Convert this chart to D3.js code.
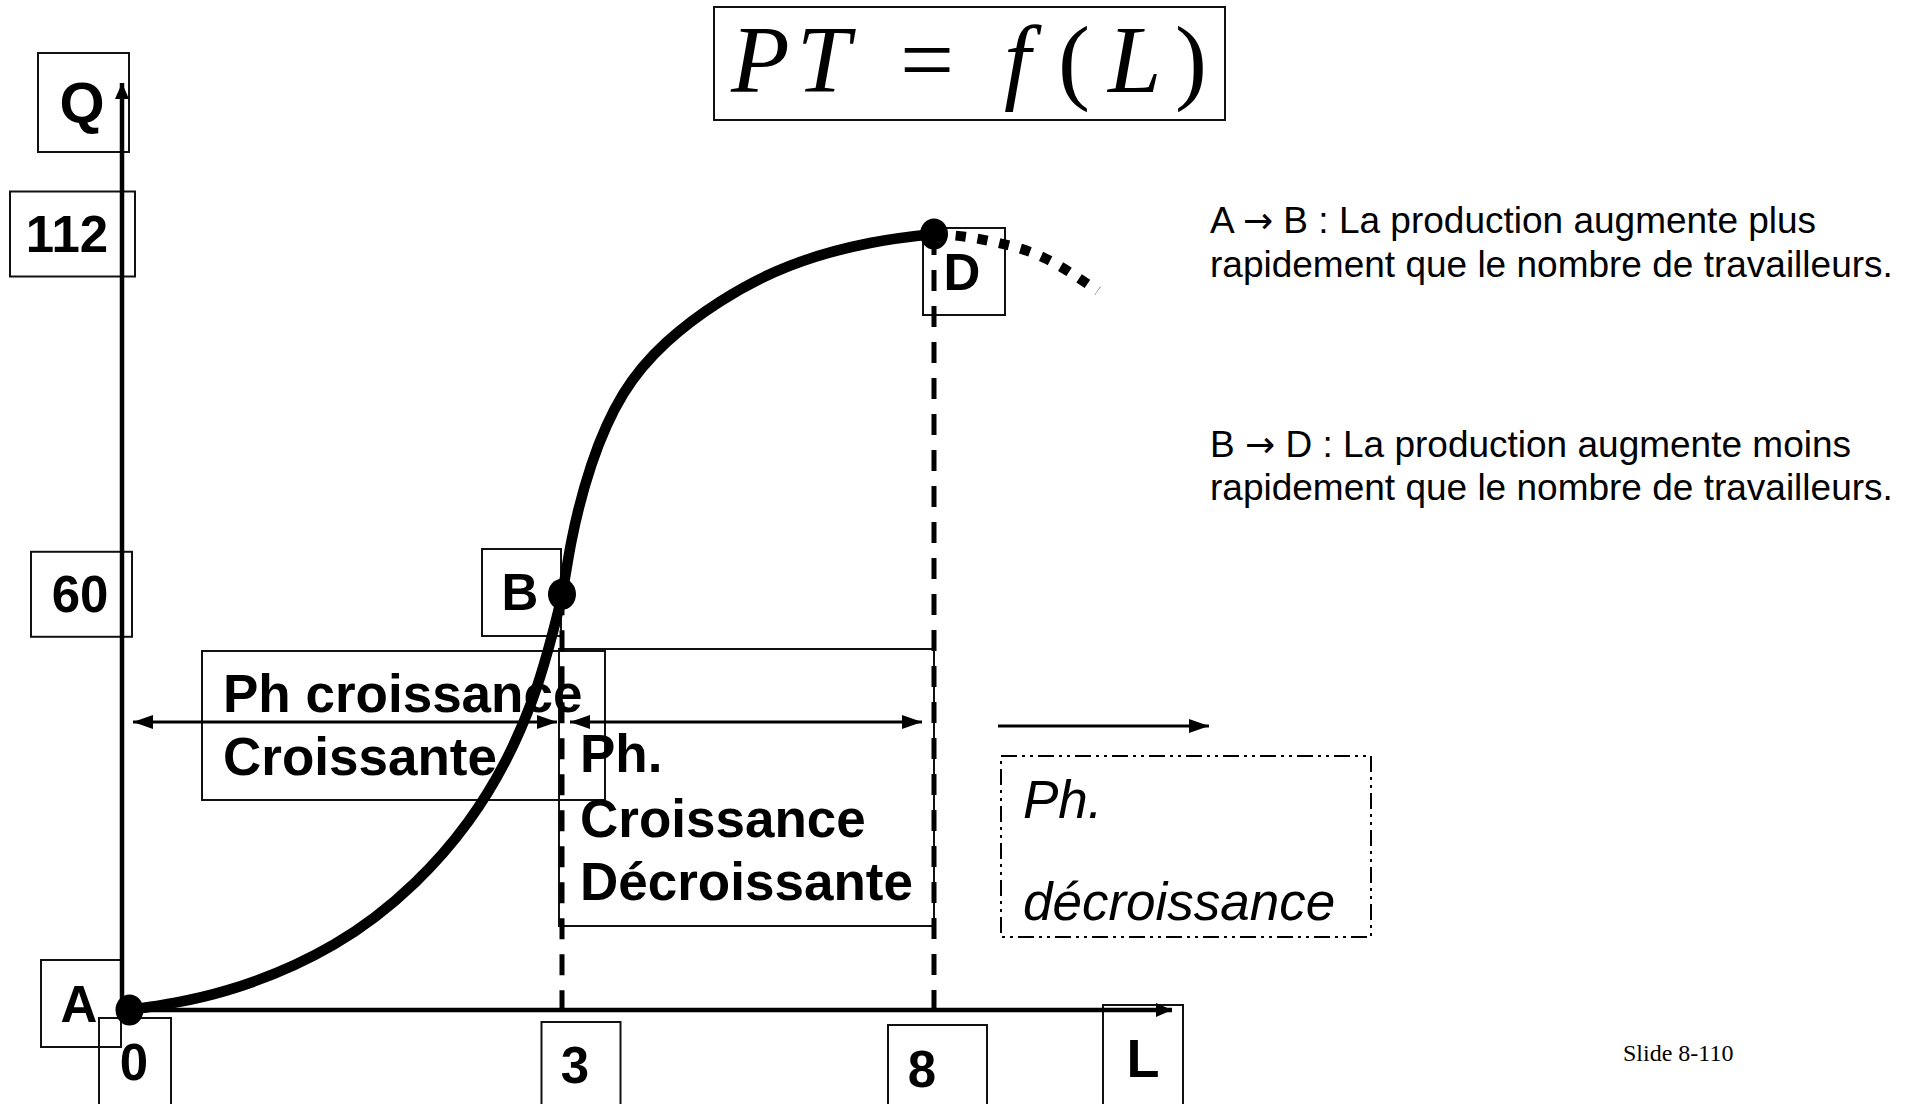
<!DOCTYPE html>
<html>
<head>
<meta charset="utf-8">
<script src="https://cdn.jsdelivr.net/npm/d3@7"></script>
<style>
  html, body { margin: 0; padding: 0; background: #fff; }
  svg { display: block; }
  .lbl { font-family: "Liberation Sans", Arial, sans-serif; font-weight: bold; fill: #000; }
</style>
</head>
<body>
<svg id="chart" width="1914" height="1104"></svg>
<script>
// ---------------- DATA ----------------
// Total product curve PT = f(L) (L workers, Q output)
const curveL = [0, 0.676, 1.418, 1.978, 2.348, 2.609, 2.795, 2.906, 3, 3.130, 3.394, 3.827, 4.402, 5.124, 6.058, 7.14, 8];
const curveQ = [0, 2.83, 9.45, 18.33, 27.13, 35.96, 44.8, 52.16, 60, 67.83, 78.65, 88.97, 96.35, 102.24, 107.4, 110.7, 112];
// dotted continuation after D (decreasing phase)
const extL = [8, 8.42, 8.95, 9.53, 10.2];
const extQ = [112, 111.6, 110.5, 108.3, 103.8];
// key points
const pointNames = ["A", "B", "D"];
const pointL = [0, 3, 8];
const pointQ = [0, 60, 112];
// tick labels
const xTickValues = [0, 3, 8];
const xTickLabels = ["0", "3", "8"];
const yTickValues = [60, 112];
const yTickLabels = ["60", "112"];
const axisNames = ["Q", "L"];
const titleParts = ["PT", "=", "f", "(", "L", ")"];
const phaseLabels = [["Ph croissance", "Croissante"], ["Ph.", "Croissance", "Décroissante"], ["Ph.", "décroissance"]];
const notes = [
  [["A ", "\u2192", " B : La production augmente plus"], "rapidement que le nombre de travailleurs."],
  [["B ", "\u2192", " D : La production augmente moins"], "rapidement que le nombre de travailleurs."]
];
const slideLabel = "Slide 8-110";

// ---------------- LAYOUT ----------------
const svg = d3.select("#chart");
const x = d3.scaleLinear().domain([0, 3, 8]).range([129.5, 562, 934]);
const y = d3.scaleLinear().domain([0, 112]).range([1010, 234]);

const defs = svg.append("defs");
function marker(id, w, h, orientAuto) {
  defs.append("marker").attr("id", id)
    .attr("markerUnits", "userSpaceOnUse")
    .attr("viewBox", `0 0 ${w} ${h}`)
    .attr("refX", w).attr("refY", h / 2)
    .attr("markerWidth", w).attr("markerHeight", h)
    .attr("orient", orientAuto)
    .append("path").attr("d", `M0,0L${w},${h/2}L0,${h}Z`).attr("fill", "#000");
}
marker("ax", 16, 14, "auto");
marker("arr", 20, 14, "auto-start-reverse");

function box(x0, y0, w, h, sw) {
  svg.append("rect").attr("x", x0).attr("y", y0).attr("width", w).attr("height", h)
    .attr("fill", "none").attr("stroke", "#111").attr("stroke-width", sw || 2);
}
function label(t, cx, by, size) {
  svg.append("text").attr("class", "lbl").attr("x", cx).attr("y", by)
    .attr("text-anchor", "middle").attr("font-size", size).text(t);
}

// ---- Title (one text element, positioned tspans)
box(714, 7, 511, 113, 2);
const titleX = [731, 900, 1004, 1058, 1108, 1175];
const titleItalic = [true, false, true, false, true, false];
const title = svg.append("text").attr("y", 92)
  .attr("font-family", "'Liberation Serif', 'Times New Roman', serif")
  .attr("font-size", 96);
titleParts.forEach((p, i) => {
  const ts = title.append("tspan").attr("x", titleX[i])
    .attr("font-style", titleItalic[i] ? "italic" : "normal")
    .text(p);
  if (p === "PT") ts.attr("letter-spacing", 7);
});

// ---- Axis name boxes
box(38, 53, 91, 99); label(axisNames[0], 82, 123, 58);
box(1103, 1005, 80, 105); label(axisNames[1], 1143, 1077, 54);

// ---- Y tick boxes
const yBox = { "60": [31, 101, 85], "112": [10, 125, 85] };
const yTextCx = { "60": 80, "112": 67 };
yTickValues.forEach((v, i) => {
  const b = yBox[yTickLabels[i]];
  const cy = y(v);
  box(b[0], cy - b[2] / 2, b[1], b[2]);
  label(yTickLabels[i], yTextCx[yTickLabels[i]], cy + 18, 51);
});

// ---- X tick boxes
const xBoxDx = [-30.5, -20.5, -46];
const xBoxW = [72, 79, 99];
const xBoxTop = [1018, 1022, 1025];
const xTextDx = [4.5, 13, -12];
const xTextBase = [1080, 1083, 1087];
xTickValues.forEach((v, i) => {
  const px = x(v);
  box(px + xBoxDx[i], xBoxTop[i], xBoxW[i], 100);
  label(xTickLabels[i], px + xTextDx[i], xTextBase[i], 51);
});

// ---- Point label boxes
const ptBox = [[41, 960, 80, 87], [482, 549, 79, 87], [923, 228, 82, 87]];
const ptText = [[79, 1022], [520, 610], [962, 290]];
pointNames.forEach((n, i) => {
  const b = ptBox[i];
  box(b[0], b[1], b[2], b[3]);
  label(n, ptText[i][0], ptText[i][1], 51);
});

// ---- Phase boxes & texts
box(202, 651, 403, 149, 2);
box(559, 649, 375, 277, 2);
svg.append("rect").attr("x", 1001).attr("y", 756).attr("width", 370).attr("height", 181)
  .attr("fill", "none").attr("stroke", "#000").attr("stroke-width", 2)
  .attr("stroke-dasharray", "16,5,3,5,3,5");

const ph1Base = [712, 775];
phaseLabels[0].forEach((t, i) => {
  svg.append("text").attr("class", "lbl").attr("x", 223).attr("y", ph1Base[i]).attr("font-size", 53).text(t);
});
const ph2Base = [772, 837, 900];
phaseLabels[1].forEach((t, i) => {
  svg.append("text").attr("class", "lbl").attr("x", 580).attr("y", ph2Base[i]).attr("font-size", 53).text(t);
});
const ph3Base = [818, 920];
phaseLabels[2].forEach((t, i) => {
  svg.append("text").attr("x", 1023).attr("y", ph3Base[i])
    .attr("font-family", "'Liberation Sans', Arial, sans-serif")
    .attr("font-style", "italic").attr("font-size", 53).text(t);
});

// ---- Notes on the right
const noteBase = [[233, 277], [457, 500]];
notes.forEach((lines, i) => {
  const t1 = svg.append("text").attr("x", 1210).attr("y", noteBase[i][0])
    .attr("font-family", "'Liberation Sans', Arial, sans-serif").attr("font-size", 37);
  lines[0].forEach((s, k) => {
    const ts = t1.append("tspan").text(s);
    if (k === 1) ts.attr("font-family", "'DejaVu Sans', sans-serif").attr("font-size", 36);
  });
  svg.append("text").attr("x", 1210).attr("y", noteBase[i][1])
    .attr("font-family", "'Liberation Sans', Arial, sans-serif")
    .attr("font-size", 37).text(lines[1]);
});

// ---- Slide number
svg.append("text").attr("x", 1623).attr("y", 1061)
  .attr("font-family", "'Liberation Serif', 'Times New Roman', serif")
  .attr("font-size", 24).text(slideLabel);

// ---- Phase arrows
function arrow(x1, x2, yy, both) {
  const l = svg.append("line").attr("x1", x1).attr("x2", x2).attr("y1", yy).attr("y2", yy)
    .attr("stroke", "#000").attr("stroke-width", 3).attr("marker-end", "url(#arr)");
  if (both) l.attr("marker-start", "url(#arr)");
}
arrow(133, 557, 722, true);
arrow(570, 922, 722, true);
arrow(998, 1209, 726, false);

// ---- Dashed verticals at B and D
[1, 2].forEach(i => {
  svg.append("line")
    .attr("x1", x(pointL[i])).attr("x2", x(pointL[i]))
    .attr("y1", y(pointQ[i])).attr("y2", y(0))
    .attr("stroke", "#000").attr("stroke-width", 5)
    .attr("stroke-dasharray", "21,15");
});

// ---- Axes
svg.append("line").attr("x1", 122).attr("y1", 1012).attr("x2", 122).attr("y2", 83)
  .attr("stroke", "#000").attr("stroke-width", 4.5).attr("marker-end", "url(#ax)");
svg.append("line").attr("x1", 120).attr("y1", 1010).attr("x2", 1172).attr("y2", 1010)
  .attr("stroke", "#000").attr("stroke-width", 4.5).attr("marker-end", "url(#ax)");

// ---- Curve (natural cubic spline through the read points)
const line = d3.line().x(d => x(d[0])).y(d => y(d[1])).curve(d3.curveNatural);
svg.append("path").datum(curveL.map((l, i) => [l, curveQ[i]]))
  .attr("d", line).attr("fill", "none").attr("stroke", "#000").attr("stroke-width", 10.5)
  .attr("stroke-linejoin", "round");
svg.append("path").datum(extL.map((l, i) => [l, extQ[i]]))
  .attr("d", line).attr("fill", "none").attr("stroke", "#000").attr("stroke-width", 10)
  .attr("stroke-dasharray", "10,12");

// ---- Points
pointNames.forEach((n, i) => {
  svg.append("ellipse").attr("cx", x(pointL[i])).attr("cy", y(pointQ[i]))
    .attr("rx", 14).attr("ry", 15.5).attr("fill", "#000");
});
</script>
</body>
</html>
